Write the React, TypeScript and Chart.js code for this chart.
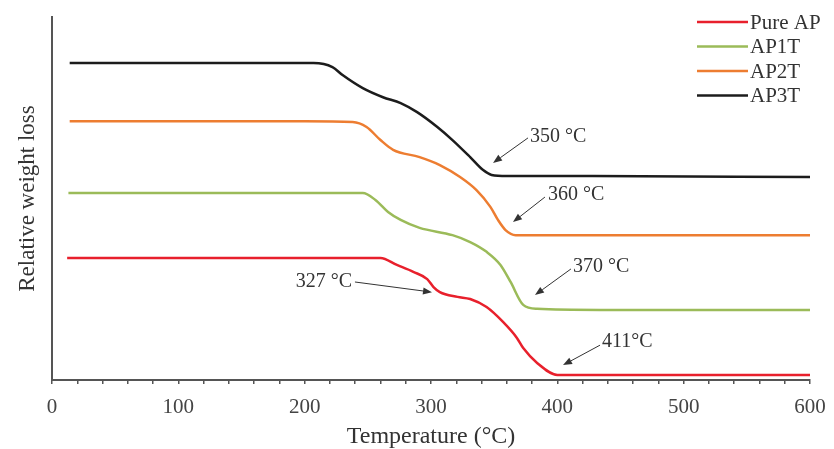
import React, { useEffect, useRef } from "react";
import { Chart, registerables } from "chart.js";

Chart.register(...registerables);

// Temperature (°C) and relative weight-loss values
const pureApT = [12, 260, 273, 286, 297, 302, 307, 321, 331, 344, 357, 368, 373, 384, 400, 600];
const pureApW = [33.6, 33.6, 31.7, 29.8, 27.8, 25.6, 24.2, 22.9, 22.3, 20.1, 16.0, 11.6, 8.8, 4.7, 1.4, 1.4];

const ap1tT = [13, 246, 256, 266, 276, 291, 317, 331, 344, 355, 363, 373, 384, 434, 600];
const ap1tW = [51.5, 51.5, 49.6, 46.3, 44.1, 41.9, 39.9, 38.0, 35.3, 31.7, 27.0, 20.7, 19.6, 19.3, 19.3];

const ap2tT = [14, 200, 238, 249, 260, 270, 291, 307, 323, 336, 347, 353, 359, 367, 600];
const ap2tW = [71.3, 71.3, 71.1, 69.7, 66.1, 63.4, 61.4, 59.2, 55.9, 52.3, 47.7, 44.1, 41.3, 39.9, 39.9];

const ap3tT = [14, 207, 222, 230, 246, 262, 276, 289, 305, 317, 331, 341, 348, 360, 428, 600];
const ap3tW = [87.3, 87.3, 86.2, 84.0, 80.4, 77.9, 76.3, 73.8, 69.7, 66.1, 61.4, 57.9, 56.5, 56.2, 56.2, 55.9];

const seriesNames = ["Pure AP", "AP1T", "AP2T", "AP3T"];
const seriesColors = ["#e8202c", "#9bbb59", "#ed7d31", "#1c1c1c"];

const xTickLabels = [0, 100, 200, 300, 400, 500, 600];

// Annotation labels: text anchor (data coords) and arrow start/tip (data coords)
const annLabels = ["350 °C", "360 °C", "370 °C", "327 °C", "411°C"];
const annTextX = [378.4, 392.6, 412.4, 237.5, 435.4];
const annTextY = [66.9, 51.0, 31.1, 27.0, 10.5];
const annAlign = ["left", "left", "left", "right", "left"];
const annFromX = [376.8, 390.2, 410.8, 239.8, 433.8];
const annFromY = [66.7, 50.4, 30.6, 27.0, 9.6];
const annToX = [349.1, 364.9, 382.3, 300.8, 404.5];
const annToY = [59.8, 43.5, 23.4, 24.2, 4.1];

const SERIF = "'Liberation Serif', 'Times New Roman', serif";

function pts(xs: number[], ys: number[]) {
  return xs.map((x, i) => ({ x, y: ys[i] }));
}

const annotationPlugin = {
  id: "annotations",
  afterDatasetsDraw(chart: any) {
    const { ctx, scales } = chart;
    const xs = scales.x;
    const ys = scales.y;
    ctx.save();
    ctx.font = `20px ${SERIF}`;
    ctx.fillStyle = "#333";
    ctx.strokeStyle = "#333";
    ctx.textBaseline = "middle";
    for (let i = 0; i < annLabels.length; i++) {
      ctx.textAlign = annAlign[i] as CanvasTextAlign;
      ctx.fillText(annLabels[i], xs.getPixelForValue(annTextX[i]), ys.getPixelForValue(annTextY[i]));
      const x1 = xs.getPixelForValue(annFromX[i]);
      const y1 = ys.getPixelForValue(annFromY[i]);
      const x2 = xs.getPixelForValue(annToX[i]);
      const y2 = ys.getPixelForValue(annToY[i]);
      const ang = Math.atan2(y2 - y1, x2 - x1);
      const hl = 9;
      const hw = 3.5;
      const bx = x2 - hl * Math.cos(ang);
      const by = y2 - hl * Math.sin(ang);
      ctx.lineWidth = 1;
      ctx.beginPath();
      ctx.moveTo(x1, y1);
      ctx.lineTo(bx, by);
      ctx.stroke();
      ctx.beginPath();
      ctx.moveTo(x2, y2);
      ctx.lineTo(bx + hw * Math.sin(ang), by - hw * Math.cos(ang));
      ctx.lineTo(bx - hw * Math.sin(ang), by + hw * Math.cos(ang));
      ctx.closePath();
      ctx.fill();
    }
    ctx.restore();
  },
};

const legendPlugin = {
  id: "customLegend",
  afterDraw(chart: any) {
    const { ctx } = chart;
    const right = chart.chartArea.right;
    const top = chart.chartArea.top;
    ctx.save();
    ctx.font = `21px ${SERIF}`;
    ctx.textBaseline = "middle";
    ctx.textAlign = "left";
    chart.data.datasets.forEach((ds: any, i: number) => {
      const y = top + 5 + i * 24.5;
      const x0 = right - 113;
      ctx.strokeStyle = ds.borderColor;
      ctx.lineWidth = 2.5;
      ctx.beginPath();
      ctx.moveTo(x0, y);
      ctx.lineTo(x0 + 51, y);
      ctx.stroke();
      ctx.fillStyle = "#333";
      ctx.fillText(ds.label, x0 + 53, y + 1);
    });
    ctx.restore();
  },
};

export default function App() {
  const ref = useRef<HTMLCanvasElement>(null);
  useEffect(() => {
    if (!ref.current) return;
    const data = [pts(pureApT, pureApW), pts(ap1tT, ap1tW), pts(ap2tT, ap2tW), pts(ap3tT, ap3tW)];
    const chart = new Chart(ref.current, {
      type: "line",
      data: {
        datasets: data.map((d, i) => ({
          label: seriesNames[i],
          data: d,
          borderColor: seriesColors[i],
          backgroundColor: seriesColors[i],
          borderWidth: 2.5,
          pointRadius: 0,
          cubicInterpolationMode: "monotone" as const,
          fill: false,
        })),
      },
      options: {
        animation: false,
        responsive: false,
        layout: { padding: { top: 17, right: 24, left: 0, bottom: 0 } },
        plugins: { legend: { display: false }, tooltip: { enabled: false } },
        scales: {
          x: {
            type: "linear",
            min: 0,
            max: 600,
            afterFit: (s: any) => {
              s.height = 69;
              s.paddingLeft = 0;
              s.paddingRight = 0;
            },
            ticks: {
              stepSize: 20,
              autoSkip: false,
              maxRotation: 0,
              padding: 11,
              color: "#444",
              font: { family: SERIF, size: 21 },
              callback: (v: any) => (xTickLabels.includes(Number(v)) ? String(v) : ""),
            },
            grid: { drawOnChartArea: false, drawTicks: true, tickLength: 4, color: "#555", lineWidth: 1.5 },
            border: { display: true, color: "#555", width: 2 },
            title: {
              display: true,
              text: "Temperature (°C)",
              color: "#333",
              font: { family: SERIF, size: 24, lineHeight: 1 },
              padding: { top: 0, bottom: 0 },
            },
          },
          y: {
            min: 0,
            max: 100,
            afterFit: (s: any) => {
              s.width = 52;
            },
            ticks: { display: false },
            grid: { drawOnChartArea: false, drawTicks: false },
            border: { display: true, color: "#555", width: 2 },
            title: {
              display: true,
              text: "Relative weight loss",
              color: "#333",
              font: { family: SERIF, size: 23, lineHeight: 1.2 },
              padding: { top: 14, bottom: 0 },
            },
          },
        },
      },
      plugins: [annotationPlugin, legendPlugin],
    });
    return () => chart.destroy();
  }, []);
  return (
    <div style={{ position: "fixed", left: 0, top: 0, width: 834, height: 449, background: "#fff" }}>
      <canvas ref={ref} width={834} height={449} style={{ display: "block" }} />
    </div>
  );
}
